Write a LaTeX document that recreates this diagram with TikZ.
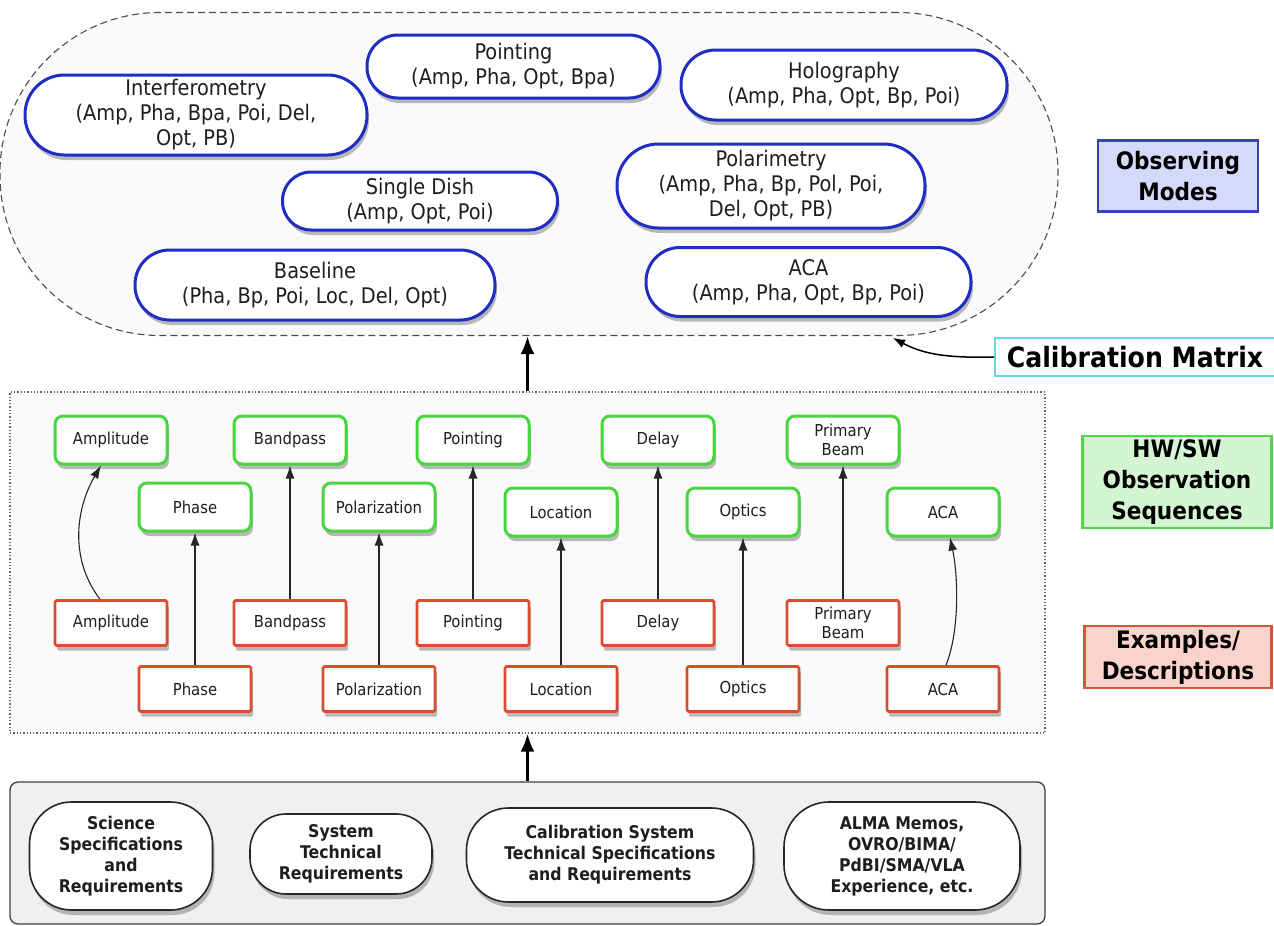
\documentclass[tikz,border=0pt]{standalone}
\usepackage{fontspec}
\setmainfont{DejaVu Sans Condensed}
\usetikzlibrary{shadows,arrows.meta}
\definecolor{mblue}{RGB}{30,45,195}
\definecolor{sgreen}{RGB}{70,215,60}
\definecolor{ered}{RGB}{220,75,45}
\definecolor{cyanb}{RGB}{100,215,230}
\definecolor{obsfill}{RGB}{214,218,250}
\definecolor{obsline}{RGB}{55,65,185}
\definecolor{hwfill}{RGB}{212,245,210}
\definecolor{hwline}{RGB}{80,215,70}
\definecolor{exfill}{RGB}{250,212,204}
\definecolor{exline}{RGB}{215,85,60}
\definecolor{txt}{RGB}{30,30,30}
\begin{document}
\begin{tikzpicture}[x=1pt,y=-1pt,
  shadowed/.style={drop shadow={shadow xshift=2pt,shadow yshift=-5pt,opacity=0.6,fill=black!45}},
  mode/.style={rectangle, draw=mblue, line width=3pt, fill=white, shadowed, align=center, inner sep=0pt, font=\fontsize{21.5}{25}\selectfont, text=txt},
  seq/.style={rectangle, rounded corners=8pt, draw=sgreen, line width=3pt, fill=white, shadowed, minimum width=112pt, minimum height=48pt, align=center, inner sep=0pt, font=\fontsize{16.5}{19}\selectfont, text=txt},
  ex/.style={rectangle, rounded corners=1.5pt, draw=ered, line width=2.7pt, fill=white, shadowed, minimum width=112pt, minimum height=45pt, align=center, inner sep=0pt, font=\fontsize{16.5}{19}\selectfont, text=txt},
  src/.style={rectangle, draw=black!85, line width=1.6pt, fill=white, shadowed, align=center, inner sep=0pt, font=\bfseries\fontsize{17.5}{21}\selectfont, text=txt},
  legend/.style={rectangle, line width=2.5pt, align=center, inner sep=0pt, font=\bfseries\fontsize{24}{31}\selectfont, text=black},
  link/.style={-{Latex[length=13pt,width=9pt]}, line width=1.1pt, draw=black!85},
  bigarrow/.style={-{Latex[length=18pt,width=14pt]}, line width=3pt, draw=black},
]
\fill[white] (0,0) rectangle (1274,926);
\useasboundingbox (0,0) rectangle (1274,926);

% containers
\node[draw=black!70, dash pattern=on 7pt off 4pt, line width=1.1pt, rounded corners=160pt, minimum width=1058pt, minimum height=323pt, fill=black!2] (modes) at (529,174) {};
\node[draw=black!60, dotted, line width=1.3pt, fill=black!2, minimum width=1035pt, minimum height=341pt] (mid) at (527.5,562.5) {};
\node[draw=black!75, line width=1.3pt, rounded corners=8pt, fill=black!6, minimum width=1035pt, minimum height=142pt] (base) at (527.5,853) {};

% observing modes
\node[mode, minimum width=342pt, minimum height=80pt, rounded corners=39.5pt] (interf) at (196,115) {Interferometry\\(Amp, Pha, Bpa, Poi, Del,\\Opt, PB)};
\node[mode, minimum width=293pt, minimum height=63pt, rounded corners=31pt] (mpoint) at (513.5,66.5) {Pointing\\(Amp, Pha, Opt, Bpa)};
\node[mode, minimum width=326pt, minimum height=70pt, rounded corners=34.5pt] (holo) at (844,85) {Holography\\(Amp, Pha, Opt, Bp, Poi)};
\node[mode, minimum width=275pt, minimum height=58pt, rounded corners=28.5pt] (sdish) at (420,201) {Single Dish\\(Amp, Opt, Poi)};
\node[mode, minimum width=308pt, minimum height=84pt, rounded corners=41.5pt] (polar) at (771,186) {Polarimetry\\(Amp, Pha, Bp, Pol, Poi,\\Del, Opt, PB)};
\node[mode, minimum width=360pt, minimum height=70pt, rounded corners=34.5pt] (basel) at (315,285) {Baseline\\(Pha, Bp, Poi, Loc, Del, Opt)};
\node[mode, minimum width=325pt, minimum height=69pt, rounded corners=34pt] (maca) at (808.5,282) {ACA\\(Amp, Pha, Opt, Bp, Poi)};

% HW/SW sequences
\node[seq] (s1) at (111,440) {Amplitude};
\node[seq] (s3) at (290,440) {Bandpass};
\node[seq] (s5) at (473,440) {Pointing};
\node[seq] (s7) at (658,440) {Delay};
\node[seq] (s9) at (843,440) {Primary\\Beam};
\node[seq] (s2) at (195,507) {Phase};
\node[seq] (s4) at (379,507) {Polarization};
\node[seq] (s6) at (561,512) {Location};
\node[seq] (s8) at (743,512) {Optics};
\node[seq] (s10) at (943,512) {ACA};

% examples
\node[ex] (e1) at (111,623) {Amplitude};
\node[ex] (e3) at (290,623) {Bandpass};
\node[ex] (e5) at (473,623) {Pointing};
\node[ex] (e7) at (658,623) {Delay};
\node[ex] (e9) at (843,623) {Primary\\Beam};
\node[ex] (e2) at (195,689) {Phase};
\node[ex] (e4) at (379,689) {Polarization};
\node[ex] (e6) at (561,689) {Location};
\node[ex] (e8) at (743,689) {Optics};
\node[ex] (e10) at (943,689) {ACA};

% sources
\node[src, minimum width=183pt, minimum height=108pt, rounded corners=42pt] (sci) at (121,856) {Science\\Specifications\\and\\Requirements};
\node[src, minimum width=182pt, minimum height=80pt, rounded corners=36pt] (sys) at (341,854) {System\\Technical\\Requirements};
\node[src, minimum width=287pt, minimum height=94pt, rounded corners=42pt] (cal) at (610,855) {Calibration System\\Technical Specifications\\and Requirements};
\node[src, minimum width=236pt, minimum height=108pt, rounded corners=45pt] (alma) at (902,856) {ALMA Memos,\\OVRO/BIMA/\\PdBI/SMA/VLA\\Experience, etc.};

% legend
\node[legend, draw=obsline, fill=obsfill, minimum width=160pt, minimum height=71pt] (lobs) at (1178,176) {Observing\\Modes};
\node[legend, draw=hwline, fill=hwfill, minimum width=189pt, minimum height=92pt] (lhw) at (1177,482) {HW/SW\\Observation\\Sequences};
\node[legend, draw=exline, fill=exfill, minimum width=187pt, minimum height=62pt] (lex) at (1178,657) {Examples/\\Descriptions};
\node[legend, draw=cyanb, fill=white, minimum width=280pt, minimum height=38pt, font=\bfseries\fontsize{28}{30}\selectfont] (calib) at (1135,357) {Calibration Matrix};
\coordinate (calend) at (893,338);

% links
\draw[link] ([xshift=-11pt]e1.north) .. controls (70,560) and (75,510) .. ([xshift=-10pt]s1.south);
\draw[link] (e2.north) -- (s2.south);
\draw[link] (e3.north) -- (s3.south);
\draw[link] (e4.north) -- (s4.south);
\draw[link] (e5.north) -- (s5.south);
\draw[link] (e6.north) -- (s6.south);
\draw[link] (e7.north) -- (s7.south);
\draw[link] (e8.north) -- (s8.south);
\draw[link] (e9.north) -- (s9.south);
\draw[link] ([xshift=3pt]e10.north) .. controls (960,630) and (958,575) .. ([xshift=7pt]s10.south);

\draw[bigarrow] (base.north) -- (mid.south);
\draw[bigarrow] (mid.north) -- (mid.north |- modes.south);
\draw[-{Latex[length=12pt,width=9pt]}, line width=1.5pt] (calib.west) .. controls (950,358) and (925,355) .. (calend);
\end{tikzpicture}
\end{document}
